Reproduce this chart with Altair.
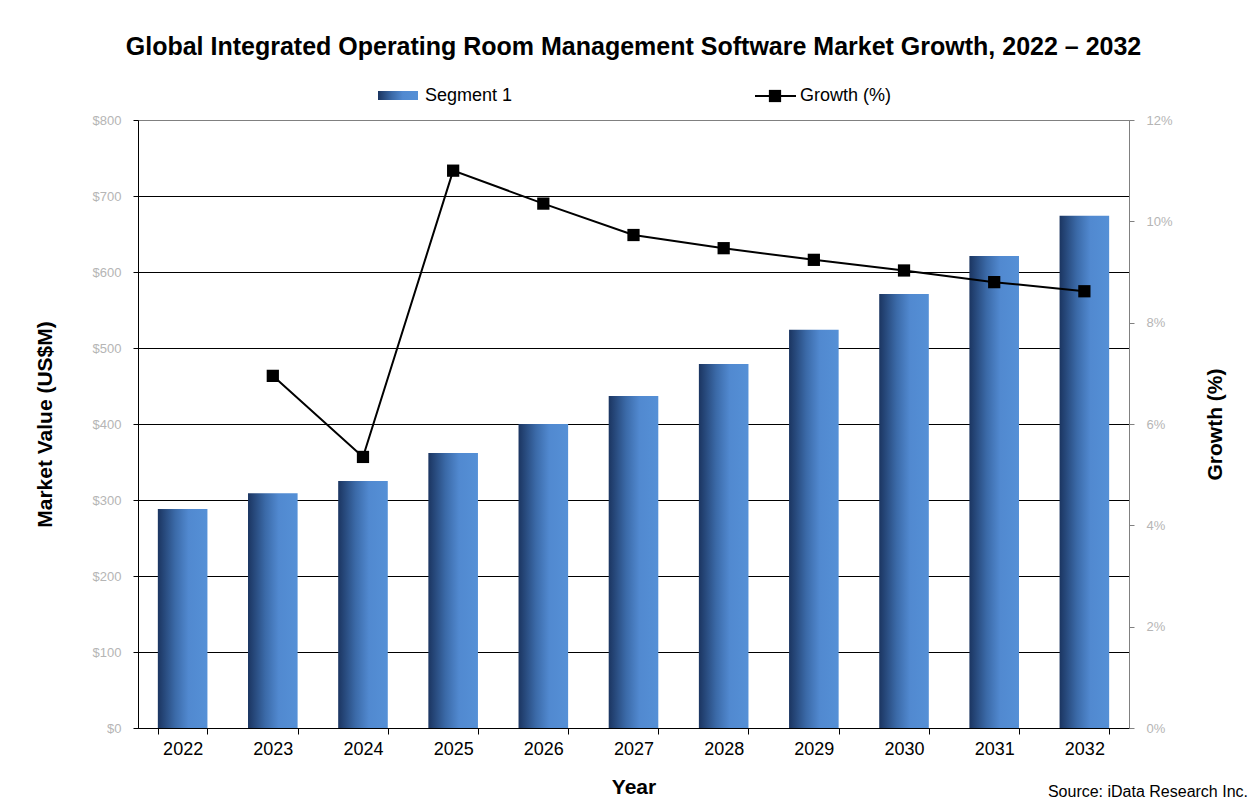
import altair as alt
import pandas as pd

years = ["2022", "2023", "2024", "2025", "2026", "2027", "2028", "2029", "2030", "2031", "2032"]
market_value = [288, 309, 325, 362, 400, 437, 479, 524, 571, 621, 674]
growth_years = ["2023", "2024", "2025", "2026", "2027", "2028", "2029", "2030", "2031", "2032"]
growth_pct = [6.95, 5.35, 11.0, 10.35, 9.73, 9.47, 9.24, 9.03, 8.80, 8.62]

left_ticks = [0, 100, 200, 300, 400, 500, 600, 700, 800]
right_ticks = [0, 2, 4, 6, 8, 10, 12]

FONT = "Liberation Sans"

bars_df = pd.DataFrame({"Year": years, "Value": market_value})
growth_df = pd.DataFrame({"Year": growth_years, "Growth": growth_pct})
one = pd.DataFrame({"k": [0]})

xenc = alt.X(
    "Year:N",
    sort=years,
    scale=alt.Scale(paddingInner=0.45, paddingOuter=0.22),
    axis=alt.Axis(
        title="Year", titleFontSize=21, titleFontWeight="bold", titleY=59,
        titleBaseline="middle", titleColor="black",
        labelAngle=0, labelFontSize=18, labelColor="black", labelPadding=6,
        tickBand="extent", tickSize=6, tickColor="black", domainColor="black",
        grid=False,
    ),
)

grad = alt.Gradient(
    gradient="linear",
    stops=[
        alt.GradientStop(color="#1b3561", offset=0),
        alt.GradientStop(color="#3b6aa8", offset=0.35),
        alt.GradientStop(color="#5189d0", offset=0.62),
        alt.GradientStop(color="#5590d6", offset=1),
    ],
    x1=0, x2=1, y1=0, y2=0,
)

bars = alt.Chart(bars_df).mark_bar(color=grad).encode(
    x=xenc,
    y=alt.Y(
        "Value:Q",
        scale=alt.Scale(domain=[0, 800], nice=False),
        axis=alt.Axis(
            title="Market Value (US$M)", titleFontSize=21, titleFontWeight="bold",
            titleColor="black", titleX=-93, titleY=304, titleBaseline="middle", titleAngle=270,
            values=left_ticks, labelExpr="'$' + datum.value", labelColor="#b5b5b5",
            labelFontSize=13, labelPadding=12,
            tickColor="black", tickSize=5, domainColor="black",
            grid=True, gridColor={"condition": {"test": "datum.value === 800", "value": "#808080"}, "value": "black"},
            gridWidth=1,
        ),
    ),
)

line = alt.Chart(growth_df).mark_line(color="black", strokeWidth=2).encode(
    x=alt.X("Year:N", sort=years),
    y=alt.Y(
        "Growth:Q",
        scale=alt.Scale(domain=[0, 12], nice=False),
        axis=alt.Axis(
            orient="right", title="Growth (%)", titleFontSize=21, titleFontWeight="bold",
            titleColor="black", titleX=86, titleY=304, titleBaseline="middle", titleAngle=270,
            values=right_ticks, labelExpr="datum.value + '%'", labelColor="#b5b5b5",
            labelFontSize=13, labelPadding=12,
            tickColor="#808080", tickSize=5, domainColor="#808080", grid=False,
        ),
    ),
)
pts = alt.Chart(growth_df).mark_point(shape="square", filled=True, color="black", size=150, opacity=1).encode(
    x=alt.X("Year:N", sort=years),
    y=alt.Y("Growth:Q", scale=alt.Scale(domain=[0, 12], nice=False)),
)

# custom legend
leg_rect = alt.Chart(one).mark_rect(color=grad).encode(
    x=alt.value(240), x2=alt.value(280), y=alt.value(-29), y2=alt.value(-20)
)
leg_text1 = alt.Chart(one).mark_text(align="left", baseline="middle", fontSize=18, color="black").encode(
    x=alt.value(287), y=alt.value(-24), text=alt.value("Segment 1")
)
leg_line = alt.Chart(one).mark_rule(color="black", strokeWidth=2).encode(
    x=alt.value(617), x2=alt.value(658), y=alt.value(-24)
)
leg_pt = alt.Chart(one).mark_point(shape="square", filled=True, color="black", size=150, opacity=1).encode(
    x=alt.value(637), y=alt.value(-24)
)
leg_text2 = alt.Chart(one).mark_text(align="left", baseline="middle", fontSize=18, color="black").encode(
    x=alt.value(662), y=alt.value(-24), text=alt.value("Growth (%)")
)
source = alt.Chart(one).mark_text(align="right", baseline="middle", fontSize=16, color="black").encode(
    x=alt.value(1110), y=alt.value(672), text=alt.value("Source: iData Research Inc.")
)

left_layer = bars
right_layer = alt.layer(line, pts)

chart = alt.layer(
    left_layer, right_layer, leg_rect, leg_text1, leg_line, leg_pt, leg_text2, source
).resolve_scale(y="independent").properties(
    width=991,
    height=608,
    autosize=alt.AutoSizeParams(type="none"),
    padding={"left": 130, "top": 112, "right": 119, "bottom": 74},
    title=alt.TitleParams(
        "Global Integrated Operating Room Management Software Market Growth, 2022 \u2013 2032",
        fontSize=25, fontWeight="bold", font=FONT, color="black", anchor="middle",
        frame="group", offset=27,
    ),
).configure(
    font=FONT,
    background="white",
).configure_view(
    stroke="#808080", strokeWidth=1,
).configure_axis(
    labelFont=FONT, titleFont=FONT,
)

chart.save("out.html", embed_options={"renderer": "svg", "actions": False})
